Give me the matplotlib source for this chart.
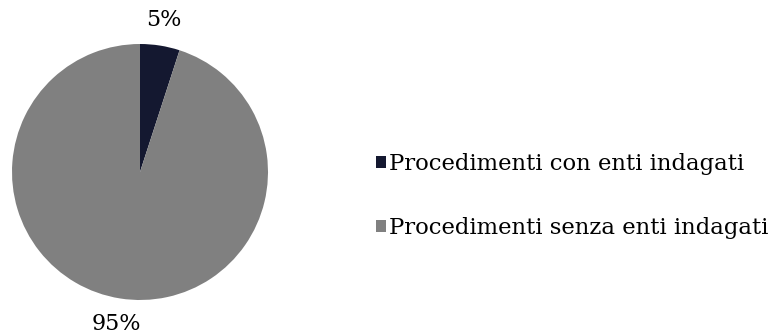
import matplotlib
matplotlib.use("Agg")
import matplotlib.pyplot as plt

labels = ["Procedimenti con enti indagati", "Procedimenti senza enti indagati"]
shares = [5, 95]
colors = ["#141830", "#808080"]

plt.rcParams['font.family'] = ['DejaVu Serif']

W, H = 772, 336
fig = plt.figure(figsize=(W / 100, H / 100), dpi=100)

# pie area in pixels: centre (140, 172), radius 128
cx, cy, r = 140, 172, 128
ax = fig.add_axes([(cx - r) / W, (H - cy - r) / H, 2 * r / W, 2 * r / H])
wedges, texts, autotexts = ax.pie(shares, colors=colors, startangle=90, counterclock=False,
                                  autopct="%d%%", pctdistance=1.2, radius=1,
                                  textprops={'fontsize': 16, 'color': 'black'})
ax.set_xlim(-1, 1)
ax.set_ylim(-1, 1)
ax.set_aspect('auto')
ax.axis('off')

fig.legend(wedges, labels, loc='center left', bbox_to_anchor=(376 / W, (H - 196) / H),
           frameon=False, fontsize=16.4, handlelength=0.45, handleheight=0.45,
           handletextpad=0.1, labelspacing=1.85, borderpad=0, borderaxespad=0)

fig.savefig("out.png", dpi=100)
